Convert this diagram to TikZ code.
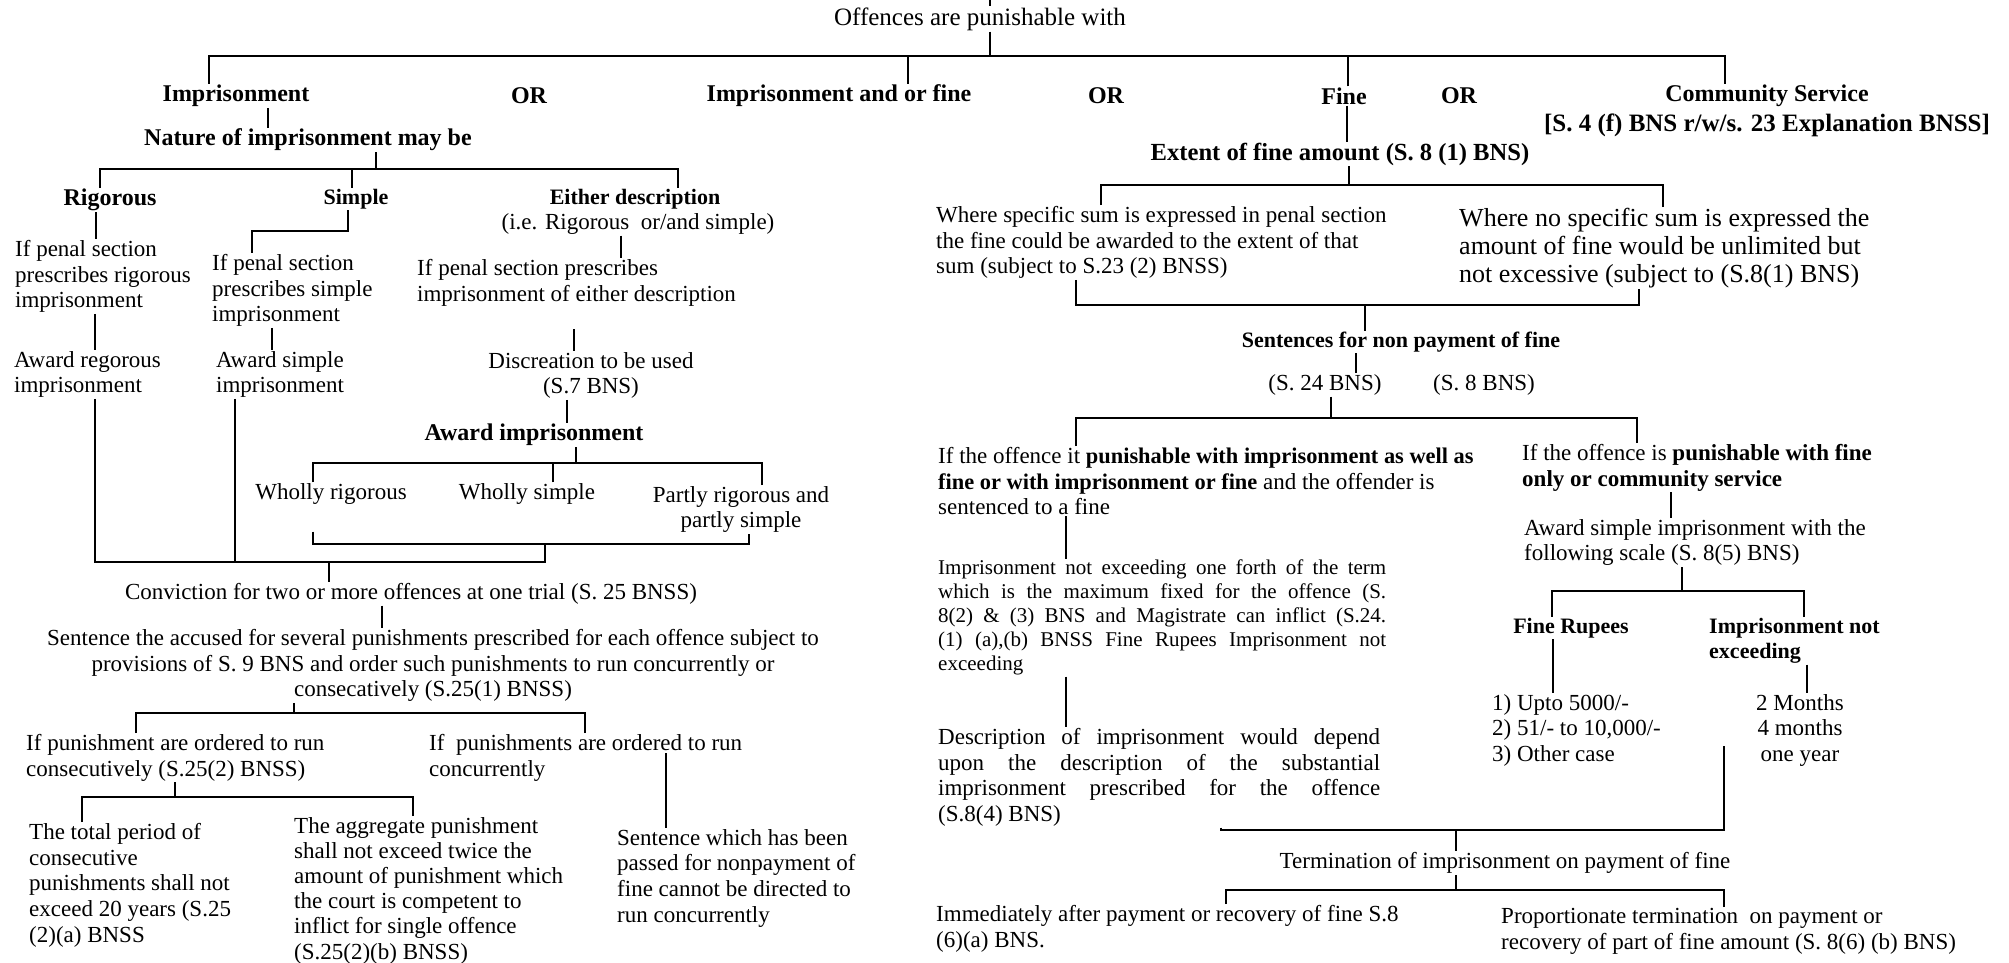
\documentclass[tikz,border=0pt]{standalone}
\usepackage{fontspec}
\setmainfont{Liberation Serif}
\tikzset{
	txt/.style = {font = \fontsize{11.5}{12.85}\selectfont, inner sep = 0pt, align = left},
	ctxt/.style = {txt, align = center},
	bigtxt/.style = {font = \fontsize{13}{14}\selectfont, inner sep = 0pt, align = left},
	smalltxt/.style = {font = \fontsize{10.5}{12}\selectfont, inner sep = 0pt, text width = 224pt, align = justify},
	jtxt/.style = {txt, text width = 221pt, align = justify},
	head/.style = {font = \fontsize{12}{14}\selectfont\bfseries, inner sep = 0pt},
	subhead/.style = {font = \fontsize{11}{12.5}\selectfont\bfseries, inner sep = 0pt, align = left},
}
\begin{document}
\begin{tikzpicture}[x = 0.5pt, y = -0.5pt, very thick]
	\fill [white] (0, 0) rectangle (2009, 963);
	\useasboundingbox (0, 0) rectangle (2009, 963);

	% root
	\coordinate (top) at (990, 0);
	\node (offences) at (980, 19) [txt, font = \fontsize{12.5}{14}\selectfont] {Offences are punishable with};
	\draw (top) -- (offences.north -| top);
	\coordinate (j1) at (990, 56);
	\draw (offences.south -| j1) -- (j1);

	% kinds of punishment
	\node (imp) at (236, 96) [head] {Imprisonment};
	\node (or1) at (529, 96) [head] {OR};
	\node (impfine) at (839, 96) [head] {Imprisonment and or fine};
	\node (or2) at (1106, 96) [head] {OR};
	\node (fine) at (1344, 96) [head] {Fine};
	\node (or3) at (1459, 96) [head] {OR};
	\node (comm) at (1767, 96) [head] {Community Service};
	\node (commref) at (1767, 125) [head, font = \fontsize{12.5}{14}\selectfont\bfseries] {[S. 4 (f) BNS r/w/s. 23 Explanation BNSS]};
	\draw (imp.north -| 209,0) |- (j1);
	\draw (impfine.north -| 908,0) |- (j1);
	\draw (fine.north -| 1348,0) |- (j1);
	\draw (comm.north -| 1725,0) |- (j1);

	% nature of imprisonment
	\node (nature) at (308, 140) [head] {Nature of imprisonment may be};
	\draw (imp.south -| 268,0) -- (nature.north -| 268,0);
	\coordinate (j2) at (376, 169);
	\draw (nature.south -| j2) -- (j2);
	\node (rig) at (110, 200) [head] {Rigorous};
	\node (simple) at (356, 199) [subhead] {Simple};
	\node (either) at (635, 199) [subhead] {Either description};
	\node (ie) at (638, 224) [txt] {(i.e. Rigorous\ \ or/and simple)};
	\draw (rig.north -| 100,0) |- (j2);
	\draw (simple.north -| 352,0) |- (j2);
	\draw (either.north -| 678,0) |- (j2);

	% rigorous
	\node (ifrig) at (14, 239) [txt, anchor = north west] {If penal section\\prescribes rigorous\\imprisonment};
	\draw (rig.south -| 96,0) -- (ifrig.north -| 96,0);
	\node (awrig) at (13, 350) [txt, anchor = north west] {Award regorous\\imprisonment};
	\draw (ifrig.south -| 95,0) -- (awrig.north -| 95,0);

	% simple
	\node (ifsim) at (211, 253) [txt, anchor = north west] {If penal section\\prescribes simple\\imprisonment};
	\draw (simple.south -| 348,0) -- ++(0, 21) -| (ifsim.north -| 252,0);
	\node (awsim) at (215, 350) [txt, anchor = north west] {Award simple\\imprisonment};
	\draw (ifsim.south -| 272,0) -- (awsim.north -| 272,0);

	% either description
	\node (ifeither) at (416, 258) [txt, anchor = north west] {If penal section prescribes\\imprisonment of either description};
	\draw (ie.south -| 621,0) -- (ifeither.north -| 621,0);
	\node (discr) at (591, 351) [ctxt, anchor = north] {Discreation to be used\\(S.7 BNS)};
	\draw (ifeither.south -| 574,0) ++(0, 22) -- (discr.north -| 574,0);
	\node (awimp) at (534, 435) [head] {Award imprisonment};
	\draw (discr.south -| 567,0) -- (awimp.north -| 567,0);
	\coordinate (j4) at (576, 463);
	\draw (awimp.south -| j4) -- (j4);
	\node (whrig) at (331, 494) [txt] {Wholly rigorous};
	\node (whsim) at (527, 494) [txt] {Wholly simple};
	\node (partly) at (741, 485) [ctxt, anchor = north] {Partly rigorous and\\partly simple};
	\draw (whrig.north -| 313,0) |- (j4);
	\draw (whsim.north -| 553,0) |- (j4);
	\draw (partly.north -| 762,0) |- (j4);
	\coordinate (j4b) at (545, 544);
	\draw (whrig.south -| 313,0) ++(0, 26) |- (j4b);
	\draw (partly.south -| 749,0) |- (j4b);

	% conviction at one trial
	\coordinate (j5) at (329, 562);
	\draw (j4b) |- (j5);
	\draw (awrig.south -| 95,0) |- (j5);
	\draw (awsim.south -| 235,0) |- (j5);
	\node (conv) at (411, 594) [txt] {Conviction for two or more offences at one trial (S. 25 BNSS)};
	\draw (j5) -- (conv.north -| j5);
	\node (sent) at (433, 628) [ctxt, anchor = north] {Sentence the accused for several punishments prescribed for each offence subject to\\provisions of S. 9 BNS and order such punishments to run concurrently or\\consecatively (S.25(1) BNSS)};
	\draw (conv.south -| 382,0) -- (sent.north -| 382,0);
	\coordinate (j6) at (294, 713);
	\draw (sent.south -| j6) -- (j6);
	\node (consec) at (25, 733) [txt, anchor = north west] {If punishment are ordered to run\\consecutively (S.25(2) BNSS)};
	\node (concur) at (428, 733) [txt, anchor = north west] {If\ \ punishments are ordered to run\\concurrently};
	\draw (consec.north -| 136,0) |- (j6);
	\draw (concur.north -| 585,0) |- (j6);
	\coordinate (j7) at (175, 797);
	\draw (consec.south -| j7) -- (j7);
	\node (total) at (28, 822) [txt, anchor = north west] {The total period of\\consecutive\\punishments shall not\\exceed 20 years (S.25\\(2)(a) BNSS};
	\node (aggr) at (293, 816) [txt, anchor = north west, font = \fontsize{11.5}{12.6}\selectfont] {The aggregate punishment\\shall not exceed twice the\\amount of punishment which\\the court is competent to\\inflict for single offence\\(S.25(2)(b) BNSS)};
	\draw (total.north -| 82,0) |- (j7);
	\draw (aggr.north -| 413,0) |- (j7);
	\node (sentnp) at (616, 828) [txt, anchor = north west] {Sentence which has been\\passed for nonpayment of\\fine cannot be directed to\\run concurrently};
	\draw (concur.north -| 666,0) ++(0, 20) -- (sentnp.north -| 666,0);

	% extent of fine
	\node (extent) at (1340, 154) [head, font = \fontsize{12.3}{14}\selectfont\bfseries] {Extent of fine amount (S. 8 (1) BNS)};
	\draw (fine.south -| 1347,0) -- (extent.north -| 1347,0);
	\coordinate (j8) at (1349, 185);
	\draw (extent.south -| j8) -- (j8);
	\node (specific) at (935, 205) [txt, anchor = north west] {Where specific sum is expressed in penal section\\the fine could be awarded to the extent of that\\sum (subject to S.23 (2) BNSS)};
	\node (nospec) at (1458, 207) [bigtxt, anchor = north west] {Where no specific sum is expressed the\\amount of fine would be unlimited but\\not excessive (subject to (S.8(1) BNS)};
	\draw (specific.north -| 1101,0) |- (j8);
	\draw (nospec.north -| 1663,0) |- (j8);
	\coordinate (j9) at (1365, 305);
	\draw (specific.south -| 1076,0) |- (j9);
	\draw (nospec.south -| 1639,0) |- (j9);

	% non payment of fine
	\node (snp) at (1401, 342) [subhead] {Sentences for non payment of fine};
	\draw (j9) -- (snp.north -| j9);
	\node (s24) at (1325, 385) [txt] {(S. 24 BNS)};
	\node (s8) at (1484, 385) [txt] {(S. 8 BNS)};
	\draw (snp.south -| 1356,0) -- (s24.north -| 1356,0);
	\coordinate (j10) at (1331, 418);
	\draw (s24.south -| j10) -- (j10);
	\node (ifoff) at (937, 446) [txt, anchor = north west] {If the offence it {\fontsize{11.2}{12.85}\selectfont\bfseries punishable with imprisonment as well as}\\{\fontsize{11.2}{12.85}\selectfont\bfseries fine or with imprisonment or fine} and the offender is\\sentenced to a fine};
	\node (ifonly) at (1521, 443) [txt, anchor = north west] {If the offence is \textbf{punishable with fine}\\\textbf{only or community service}};
	\draw (ifoff.north -| 1076,0) |- (j10);
	\draw (ifonly.north -| 1637,0) |- (j10);

	% imprisonment as well as fine
	\node (impnot) at (937, 559) [smalltxt, anchor = north west] {Imprisonment not exceeding one forth of the term\linebreak which is the maximum fixed for the offence (S.\linebreak 8(2) \& (3) BNS and Magistrate can inflict (S.24.\linebreak (1) (a),(b) BNSS Fine Rupees Imprisonment not\linebreak exceeding};
	\draw (ifoff.south -| 1066,0) -- (impnot.north -| 1066,0);
	\node (descr) at (937, 727) [jtxt, anchor = north west] {Description of imprisonment would depend\linebreak upon the description of the substantial\linebreak imprisonment prescribed for the offence\linebreak (S.8(4) BNS)};
	\draw (impnot.south -| 1066,0) -- (descr.north -| 1066,0);

	% fine only
	\node (awsc) at (1523, 518) [txt, anchor = north west] {Award simple imprisonment with the\\following scale (S. 8(5) BNS)};
	\draw (ifonly.south -| 1671,0) -- (awsc.north -| 1671,0);
	\coordinate (j11) at (1682, 591);
	\draw (awsc.south -| j11) -- (j11);
	\node (finerup) at (1571, 628) [subhead] {Fine Rupees};
	\node (impnotex) at (1708, 617) [subhead, anchor = north west] {Imprisonment not\\exceeding};
	\draw (finerup.north -| 1552,0) |- (j11);
	\draw (impnotex.north -| 1804,0) |- (j11);
	\node (amounts) at (1491, 693) [txt, anchor = north west, font = \fontsize{11.5}{12.75}\selectfont] {1) Upto 5000/-\\2) 51/- to 10,000/-\\3) Other case};
	\draw (finerup.south -| 1553,0) -- (amounts.north -| 1553,0);
	\node (terms) at (1800, 693) [ctxt, anchor = north, font = \fontsize{11.5}{12.75}\selectfont] {2 Months\\4 months\\one year};
	\draw (impnotex.south -| 1807,0) -- (terms.north -| 1807,0);

	% termination of imprisonment
	\coordinate (j12) at (1456, 830);
	\draw (descr.south -| 1221,0) |- (j12);
	\draw (terms.south -| 1724,0) ++(0, -21) |- (j12);
	\node (term) at (1505, 863) [txt] {Termination of imprisonment on payment of fine};
	\draw (j12) -- (term.north -| j12);
	\coordinate (j13) at (1456, 890);
	\draw (term.south -| j13) -- (j13);
	\node (immed) at (935, 904) [txt, anchor = north west] {Immediately after payment or recovery of fine S.8\\(6)(a) BNS.};
	\node (prop) at (1500, 907) [txt, anchor = north west] {Proportionate termination\ \ on payment or\\recovery of part of fine amount (S. 8(6) (b) BNS)};
	\draw (immed.north -| 1226,0) |- (j13);
	\draw (prop.north -| 1724,0) |- (j13);
\end{tikzpicture}
\end{document}
